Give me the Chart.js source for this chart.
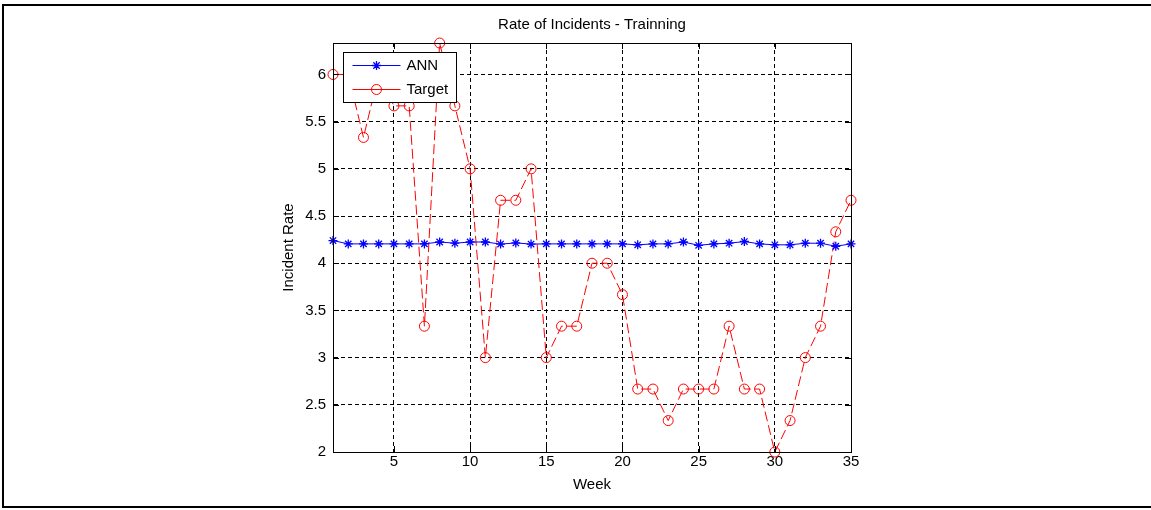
<!DOCTYPE html>
<html>
<head>
<meta charset="utf-8">
<script src="https://cdn.jsdelivr.net/npm/chart.js@4.4.0/dist/chart.umd.min.js"></script>
<style>
  html, body { margin: 0; padding: 0; background: #fff; }
</style>
</head>
<body>
<canvas id="myChart" width="1151" height="510"></canvas>
<script>
// semanas y valores
const weeks = [1, 2, 3, 4, 5, 6, 7, 8, 9, 10, 11, 12, 13, 14, 15, 16, 17, 18,
  19, 20, 21, 22, 23, 24, 25, 26, 27, 28, 29, 30, 31, 32, 33, 34, 35];
const ann = [4.24, 4.205, 4.205, 4.205, 4.205, 4.205, 4.205, 4.225, 4.212, 4.225,
  4.225, 4.203, 4.215, 4.203, 4.205, 4.205, 4.205, 4.205, 4.205, 4.205, 4.195,
  4.205, 4.205, 4.225, 4.19, 4.205, 4.212, 4.23, 4.205, 4.195, 4.195, 4.212,
  4.212, 4.18, 4.205];
const target = [6, 6, 5.333, 6, 5.667, 5.667, 3.333, 6.333, 5.667, 5, 3, 4.667,
  4.667, 5, 3, 3.333, 3.333, 4, 4, 3.667, 2.667, 2.667, 2.333, 2.667, 2.667,
  2.667, 3.333, 2.667, 2.667, 2, 2.333, 3, 3.333, 4.333, 4.667];
const xTicks = [5, 10, 15, 20, 25, 30, 35];
const yTicks = [2, 2.5, 3, 3.5, 4, 4.5, 5, 5.5, 6];

const fuente = { family: "'Liberation Sans', Arial, sans-serif", size: 15, weight: "normal" };

// caja, marcas interiores, leyenda y marco exterior
const cajaMatlab = {
  id: "cajaMatlab",
  afterDraw(chart) {
    const { ctx, chartArea: a, scales } = chart;
    const x = scales.x, y = scales.y;
    ctx.save();
    ctx.strokeStyle = "#000";
    ctx.lineWidth = 1;
    ctx.strokeRect(Math.round(a.left) + 0.5, Math.round(a.top) + 0.5,
      Math.round(a.right - a.left), Math.round(a.bottom - a.top));

    ctx.beginPath();
    xTicks.forEach((v) => {
      const px = Math.round(x.getPixelForValue(v)) + 0.5;
      ctx.moveTo(px, a.bottom); ctx.lineTo(px, a.bottom - 6);
      ctx.moveTo(px, a.top); ctx.lineTo(px, a.top + 6);
    });
    yTicks.forEach((v) => {
      const py = Math.round(y.getPixelForValue(v)) + 0.5;
      ctx.moveTo(a.left, py); ctx.lineTo(a.left + 6, py);
      ctx.moveTo(a.right, py); ctx.lineTo(a.right - 6, py);
    });
    ctx.stroke();

    // leyenda
    const lx = a.left + 10.5, ly = a.top + 9.5, lw = 113, lh = 50;
    ctx.fillStyle = "#fff";
    ctx.fillRect(lx, ly, lw, lh);
    ctx.strokeRect(lx, ly, lw, lh);
    const filas = [
      { texto: "ANN", color: "#0000ff", estilo: "star" },
      { texto: "Target", color: "#ff0000", estilo: "circle" },
    ];
    filas.forEach((f, i) => {
      const fy = ly + 13 + i * 24;
      ctx.strokeStyle = f.color;
      ctx.lineWidth = 1;
      ctx.beginPath();
      ctx.moveTo(lx + 9, fy); ctx.lineTo(lx + 57, fy);
      ctx.stroke();
      const cx = lx + 33;
      ctx.beginPath();
      if (f.estilo === "circle") {
        ctx.arc(cx, fy, 5, 0, Math.PI * 2);
      } else {
        ctx.lineWidth = 1.3;
        const r = 4.5, d = r * Math.SQRT1_2;
        ctx.moveTo(cx - r, fy); ctx.lineTo(cx + r, fy);
        ctx.moveTo(cx, fy - r); ctx.lineTo(cx, fy + r);
        ctx.moveTo(cx - d, fy - d); ctx.lineTo(cx + d, fy + d);
        ctx.moveTo(cx - d, fy + d); ctx.lineTo(cx + d, fy - d);
      }
      ctx.stroke();
      ctx.fillStyle = "#000";
      ctx.font = fuente.size + "px " + fuente.family;
      ctx.textBaseline = "middle";
      ctx.textAlign = "left";
      ctx.fillText(f.texto, lx + 63, fy);
    });

    // marco exterior
    ctx.strokeStyle = "#000";
    ctx.lineWidth = 2;
    ctx.beginPath();
    ctx.moveTo(chart.width, 5); ctx.lineTo(3, 5); ctx.lineTo(3, 507); ctx.lineTo(chart.width, 507);
    ctx.stroke();
    ctx.restore();
  },
};

function dibujarGrafica() {
  const ctx = document.getElementById("myChart").getContext("2d");
  new Chart(ctx, {
    type: "line",
    data: {
      labels: weeks,
      datasets: [
        {
          label: "ANN",
          data: ann,
          borderColor: "#0000ff",
          backgroundColor: "#0000ff",
          borderWidth: 1,
          pointStyle: "star",
          pointRadius: 4.5,
          pointBorderWidth: 1.3,
          tension: 0,
          clip: false,
        },
        {
          label: "Target",
          data: target,
          borderColor: "#ff0000",
          backgroundColor: "rgba(0,0,0,0)",
          borderWidth: 1,
          borderDash: [10, 4],
          pointStyle: "circle",
          pointRadius: 5,
          pointBorderWidth: 1,
          tension: 0,
          clip: false,
        },
      ],
    },
    options: {
      responsive: false,
      animation: false,
      events: [],
      layout: { padding: { left: 0, right: 300, top: 0, bottom: 0 } },
      plugins: {
        legend: { display: false },
        tooltip: { enabled: false },
        title: {
          display: true,
          text: "Rate of Incidents - Trainning",
          fullSize: false,
          color: "#000",
          font: fuente,
          padding: { top: 16, bottom: 9 },
        },
      },
      scales: {
        x: {
          type: "linear",
          min: 1,
          max: 35,
          afterBuildTicks: (s) => { s.ticks = xTicks.map((v) => ({ value: v })); },
          afterFit: (s) => { s.height = 58; },
          grid: { color: "#000", lineWidth: 1, drawTicks: false },
          border: { display: true, color: "#000", dash: [4, 3] },
          ticks: { color: "#000", font: fuente, padding: 1, maxRotation: 0, autoSkip: false,
            callback: (v) => String(v) },
          title: { display: true, text: "Week", color: "#000", font: fuente, padding: { top: 0, bottom: 16 } },
        },
        y: {
          type: "linear",
          min: 2,
          max: 6.3333,
          afterBuildTicks: (s) => { s.ticks = yTicks.map((v) => ({ value: v })); },
          afterFit: (s) => { s.width = 333; },
          grid: { color: "#000", lineWidth: 1, drawTicks: false },
          border: { display: true, color: "#000", dash: [4, 3] },
          ticks: { color: "#000", font: fuente, padding: 7, callback: (v) => String(v) },
          title: { display: true, text: "Incident Rate", color: "#000", font: fuente, padding: { top: 280, bottom: 0 } },
        },
      },
    },
    plugins: [cajaMatlab],
  });
}

dibujarGrafica();
</script>
</body>
</html>
